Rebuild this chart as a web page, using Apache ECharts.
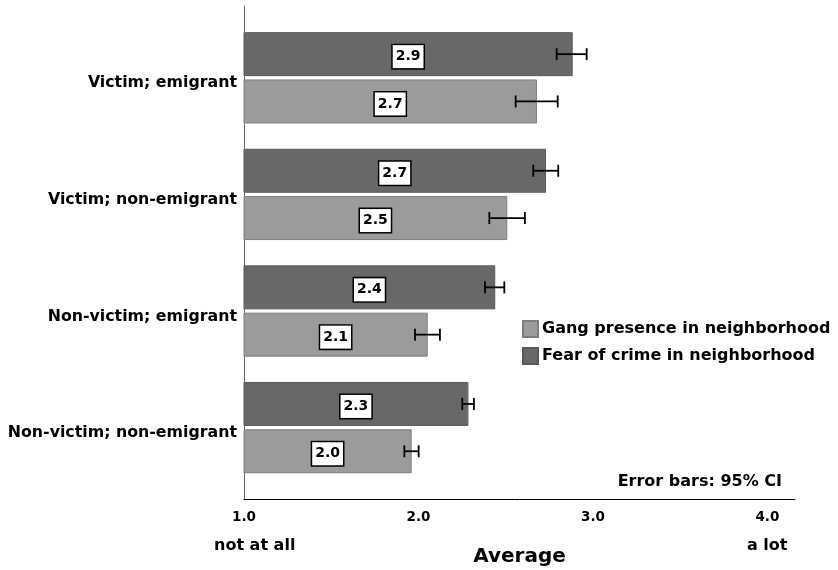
<!DOCTYPE html>
<html>
<head>
<meta charset="utf-8">
<script src="https://cdn.jsdelivr.net/npm/echarts@6/dist/echarts.min.js"></script>
<style>
  html, body { margin: 0; padding: 0; background: #fff; }
  #chart { width: 838px; height: 570px; }
</style>
</head>
<body>
<div id="chart"></div>
<script>
// Groups shown on the vertical axis, top to bottom
const categories = ['Victim; emigrant', 'Victim; non-emigrant', 'Non-victim; emigrant', 'Non-victim; non-emigrant'];

// Mean ratings (1 = not at all, 4 = a lot)
const fearMeans = [2.884, 2.731, 2.440, 2.286];
const gangMeans = [2.679, 2.509, 2.053, 1.961];

// 95% confidence interval bounds
const fearLow  = [2.792, 2.658, 2.381, 2.251];
const fearHigh = [2.964, 2.801, 2.492, 2.318];
const gangLow  = [2.557, 2.406, 1.980, 1.919];
const gangHigh = [2.798, 2.610, 2.123, 2.001];

// Value-axis tick labels and range
const tickLabels = ['1.0', '2.0', '3.0', '4.0'];
const axisMin = 1;
const axisMax = 4.158;

const seriesNames = ['Fear of crime in neighborhood', 'Gang presence in neighborhood'];
const legendOrder = ['Gang presence in neighborhood', 'Fear of crime in neighborhood'];

const FONT = '"DejaVu Sans", "Liberation Sans", Arial, sans-serif';
const BAR_W = 44;
const BAR_GAP_PX = 3.3;

const chart = echarts.init(document.getElementById('chart'), null, { renderer: 'canvas' });

function ciData(lows, highs) {
  return categories.map((c, i) => [i, lows[i], highs[i]]);
}

// Error bar: horizontal whisker with end caps, shifted onto its bar within the band
function makeErrorRenderer(shift) {
  return function (params, api) {
    const idx = api.value(0);
    const p1 = api.coord([api.value(1), idx]);
    const p2 = api.coord([api.value(2), idx]);
    const y = p1[1] + shift;
    const cap = 6;
    const style = { stroke: '#000', lineWidth: 1.8 };
    return {
      type: 'group',
      children: [
        { type: 'line', shape: { x1: p1[0], y1: y, x2: p2[0], y2: y }, style },
        { type: 'line', shape: { x1: p1[0], y1: y - cap, x2: p1[0], y2: y + cap }, style },
        { type: 'line', shape: { x1: p2[0], y1: y - cap, x2: p2[0], y2: y + cap }, style }
      ]
    };
  };
}

const barLabel = {
  show: true,
  position: 'inside',
  offset: [0, 2.5],
  formatter: p => p.value.toFixed(1),
  color: '#000',
  fontFamily: FONT,
  fontWeight: 'bold',
  fontSize: 14,
  backgroundColor: '#fff',
  borderColor: '#000',
  borderWidth: 1.5,
  padding: [5, 3, 4, 3]
};

const halfStep = (BAR_W + BAR_GAP_PX) / 2;

const option = {
  animation: false,
  backgroundColor: '#fff',
  textStyle: { fontFamily: FONT },
  grid: [
    { left: 244, right: 43, top: 19.5, height: 466.4, containLabel: false, outerBoundsMode: 'none' },
    { left: 244, right: 43, top: 6, bottom: 70.7, containLabel: false, outerBoundsMode: 'none' }
  ],
  xAxis: [
    {
      gridIndex: 0, type: 'value', min: axisMin, max: axisMax, interval: 1,
      axisLine: { show: false }, axisTick: { show: false },
      axisLabel: { show: false }, splitLine: { show: false }
    },
    {
      gridIndex: 1, type: 'value', min: axisMin, max: axisMax, interval: 1,
      axisLine: { show: true, onZero: false, lineStyle: { color: '#000', width: 1 } },
      axisTick: { show: false },
      splitLine: { show: false },
      axisLabel: {
        margin: 11,
        color: '#000', fontFamily: FONT, fontWeight: 'bold', fontSize: 13.5,
        formatter: v => {
          const i = Math.round(v - axisMin);
          return Math.abs(v - axisMin - i) < 1e-6 && i < tickLabels.length ? tickLabels[i] : '';
        }
      },
      name: 'Average',
      nameLocation: 'middle',
      nameGap: 47,
      nameTextStyle: { color: '#000', fontFamily: FONT, fontWeight: 'bold', fontSize: 20 }
    }
  ],
  yAxis: [
    {
      gridIndex: 0, type: 'category', data: categories, inverse: true,
      axisLine: { show: false }, axisTick: { show: false }, splitLine: { show: false },
      axisLabel: {
        margin: 7,
        formatter: v => '{c|' + v + '}',
        rich: {
          c: { color: '#000', fontFamily: FONT, fontWeight: 'bold', fontSize: 15.8, padding: [11, 0, 0, 0] }
        }
      }
    },
    {
      gridIndex: 1, type: 'value', min: 0, max: 1,
      axisLine: { show: true, onZero: false, lineStyle: { color: '#666', width: 1 } },
      axisTick: { show: false }, axisLabel: { show: false }, splitLine: { show: false }
    }
  ],
  legend: {
    data: legendOrder,
    orient: 'vertical',
    left: 522, top: 320, padding: 0,
    itemWidth: 15, itemHeight: 16, itemGap: 9,
    icon: 'rect',
    textStyle: { color: '#000', fontFamily: FONT, fontWeight: 'bold', fontSize: 16, padding: [0, 0, 0, -1] }
  },
  graphic: [
    { type: 'text', right: 56, top: 474,
      style: { text: 'Error bars: 95% CI', fill: '#000', font: 'bold 16px ' + FONT } },
    { type: 'text', left: 214, top: 538,
      style: { text: 'not at all', fill: '#000', font: 'bold 16px ' + FONT } },
    { type: 'text', left: 747, top: 538,
      style: { text: 'a lot', fill: '#000', font: 'bold 16px ' + FONT } }
  ],
  series: [
    {
      name: seriesNames[0], type: 'bar', xAxisIndex: 0, yAxisIndex: 0,
      data: fearMeans, barWidth: BAR_W, barGap: (BAR_GAP_PX / BAR_W * 100) + '%',
      itemStyle: { color: '#686868', borderColor: '#5a5a5a', borderWidth: 1 },
      label: barLabel
    },
    {
      name: seriesNames[1], type: 'bar', xAxisIndex: 0, yAxisIndex: 0,
      data: gangMeans, barWidth: BAR_W,
      itemStyle: { color: '#9b9b9b', borderColor: '#7e7e7e', borderWidth: 1 },
      label: barLabel
    },
    {
      type: 'custom', xAxisIndex: 0, yAxisIndex: 0,
      data: ciData(fearLow, fearHigh),
      encode: { y: 0, x: [1, 2] },
      renderItem: makeErrorRenderer(-halfStep),
      z: 5, silent: true
    },
    {
      type: 'custom', xAxisIndex: 0, yAxisIndex: 0,
      data: ciData(gangLow, gangHigh),
      encode: { y: 0, x: [1, 2] },
      renderItem: makeErrorRenderer(halfStep),
      z: 5, silent: true
    }
  ]
};

chart.setOption(option);
</script>
</body>
</html>
